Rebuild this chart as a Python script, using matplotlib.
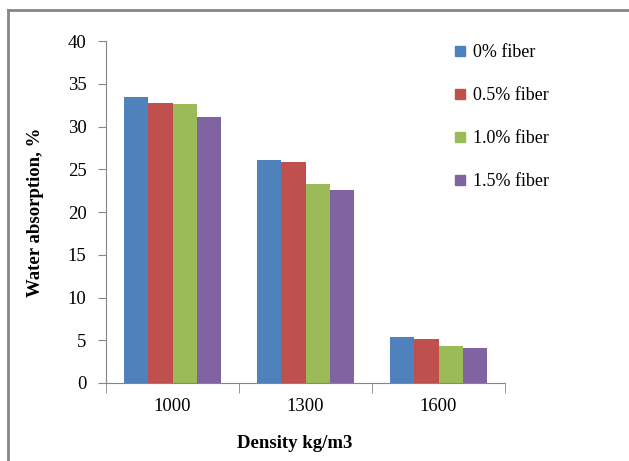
import numpy as np
import matplotlib.pyplot as plt
from matplotlib.lines import Line2D

plt.rcParams['font.family'] = ['Liberation Serif', 'DejaVu Serif']

densities = ['1000', '1300', '1600']
series_names = ['0% fiber', '0.5% fiber', '1.0% fiber', '1.5% fiber']
fiber_0 = [33.4, 26.1, 5.4]
fiber_05 = [32.8, 25.9, 5.2]
fiber_10 = [32.6, 23.3, 4.3]
fiber_15 = [31.1, 22.6, 4.1]
colors = ['#4F81BD', '#C0504D', '#9BBB59', '#8064A2']

values = [fiber_0, fiber_05, fiber_10, fiber_15]

fig = plt.figure(figsize=(6.29, 4.61), dpi=100)
ax = fig.add_axes([0.1685, 0.1692, 0.6345, 0.7418])

x = np.arange(len(densities))
w = 0.182
for i, (vals, name, c) in enumerate(zip(values, series_names, colors)):
    ax.bar(x + (i - 1.5) * w, vals, width=w, color=c, label=name, zorder=2)

ax.set_xlim(-0.5, len(densities) - 0.5)
ax.set_ylim(0, 40)
ax.set_yticks(np.arange(0, 41, 5))
ax.set_xticks(x)
ax.set_xticklabels(densities)
ax.set_xticks(np.arange(-0.5, len(densities), 1), minor=True)

grey = '#868686'
for s in ['top', 'right']:
    ax.spines[s].set_visible(False)
for s in ['left', 'bottom']:
    ax.spines[s].set_color(grey)
ax.tick_params(axis='x', which='major', length=0, labelsize=13.5, pad=11)
ax.tick_params(axis='x', which='minor', length=7, color=grey, direction='out')
ax.tick_params(axis='y', length=6, color=grey, labelsize=13.5, pad=8)

fig.text(0.469, 0.037, 'Density kg/m3', ha='center', va='center',
         fontsize=13.5, fontweight='bold')
fig.text(0.056, 0.54, 'Water absorption, %', ha='center', va='center',
         rotation=90, fontsize=13.5, fontweight='bold')

handles = [Line2D([], [], marker='s', linestyle='none', markersize=7,
                  markerfacecolor=c, markeredgecolor=c) for c in colors]
fig.legend(handles, series_names, loc='upper left',
           bbox_to_anchor=(0.697, 0.94), frameon=False, fontsize=13,
           labelspacing=1.45, handlelength=0.6, handletextpad=0.4)

# outer frame, top and left edges
fig.add_artist(Line2D([0.013, 1.0], [0.978, 0.978], color=grey, lw=2))
fig.add_artist(Line2D([0.013, 0.013], [0.0, 0.978], color=grey, lw=2))

fig.savefig('out.png', dpi=100)
